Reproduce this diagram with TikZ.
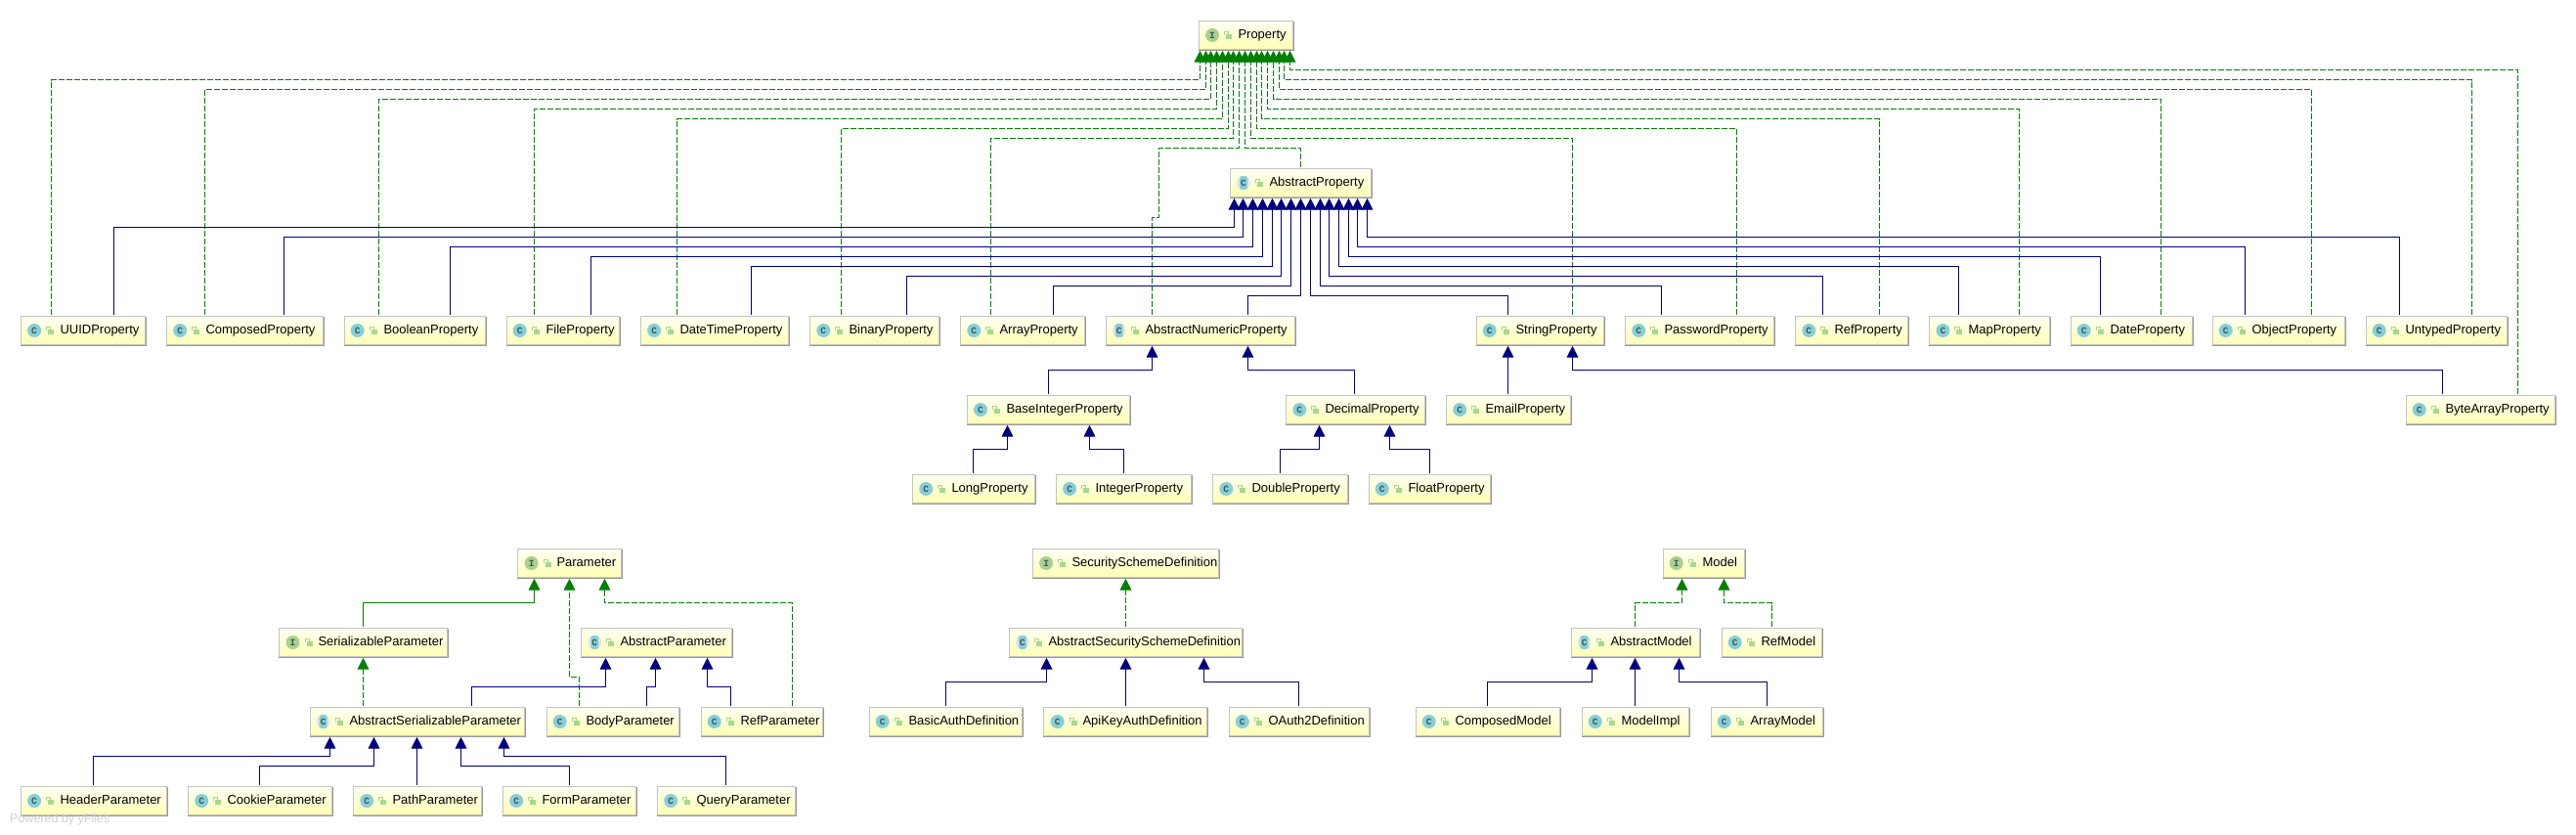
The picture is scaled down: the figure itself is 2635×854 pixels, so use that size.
\documentclass[tikz,border=0pt]{standalone}
\usepackage{fontspec}
\setmainfont{Liberation Sans}
\newfontfamily\iconfont{Liberation Mono}[Scale=1]
\usetikzlibrary{arrows.meta}
\definecolor{navyline}{HTML}{000080}
\definecolor{greenline}{HTML}{008000}
\definecolor{boxtop}{HTML}{FFFFF4}
\definecolor{boxbot}{HTML}{FFFFB4}
\definecolor{boxedge}{HTML}{C4C4C4}
\definecolor{boxshade}{HTML}{989898}
\definecolor{iconI}{HTML}{A9D08E}
\definecolor{iconC}{HTML}{86CFD8}
\definecolor{iconA}{HTML}{E4E8E8}
\definecolor{iconL}{HTML}{A6D98A}
\definecolor{iconT}{HTML}{3D5457}
\tikzset{
  classbox/.style={rectangle,draw=boxedge,line width=1pt,top color=boxtop,bottom color=boxbot,
    inner sep=0pt,outer sep=0pt,outer ysep=1.3pt,text=black,font=\fontsize{13}{15}\selectfont,
    text height=10pt,text depth=3pt},
  shadeline/.style={draw=boxshade,line width=1pt},
  blueline/.style={draw=navyline,line width=1pt,-{Triangle[length=11.7pt,width=11.7pt,fill=navyline]}},
  greenline/.style={draw=greenline,line width=1pt,-{Triangle[length=11.7pt,width=11.7pt,fill=greenline]}},
  greendash/.style={greenline,dash pattern=on 6pt off 2pt},
  icontext/.style={inner sep=0pt,text=iconT,font=\iconfont\bfseries\fontsize{9.5}{10}\selectfont},
}
\newcommand{\snapto}[2]{\pgfmathsetmacro#2{floor(#1)+0.5}}
% name, kind (I,C,A), left, top, right, bottom, text
\newcommand{\cls}[7]{%
  \snapto{#3}{\bl}\snapto{#4}{\bt}\snapto{#5}{\br}\snapto{#6}{\bb}%
  \pgfmathsetmacro\bw{\br-\bl}\pgfmathsetmacro\bh{\bb-\bt}%
  \pgfmathsetmacro\bx{(\bl+\br)/2}\pgfmathsetmacro\by{(\bt+\bb)/2}%
  \pgfmathsetmacro\ix{#3+13.7}\pgfmathsetmacro\lx{#3+29.7}%
  \node[classbox,minimum width=\bw pt,minimum height=\bh pt] (#1) at (\bx,\by)
    {\makebox[\bw pt][l]{\hspace{40pt}#7}};
  \draw[shadeline] (\bl-0.5,\bb+1) -- (\br+1,\bb+1) -- (\br+1,\bt+0.5);
  \begin{scope}[shift={(\ix,\by)}]
    \if#2I\fill[iconI] (0,0) circle[radius=7pt];\fi
    \if#2C\fill[iconC] (0,0) circle[radius=7pt];\fi
    \if#2A\fill[iconA] (0,0) circle[radius=7pt];
      \fill[iconC,rounded corners=2pt] (-4,-6.8) rectangle (4,6.8);\fi
  \end{scope}
  \node[icontext] (#1-icon) at (\ix,\by) {\if#2I I\else C\fi};
  \begin{scope}[shift={(\lx,\by)}]
    \fill[iconL] (-2,-0.7) rectangle (4,4);
    \draw[iconL,line width=1pt] (-3.5,-0.5) -- (-3.5,-3.6) -- (0.6,-3.6) -- (0.6,-0.7);
  \end{scope}
}
% child, x at child, parent, x at parent, bend y, style
\newcommand{\elbow}[6]{%
  \snapto{#2}{\ca}\snapto{#4}{\cb}\snapto{#5}{\cy}%
  \draw[#6] (#1.north -| \ca,0) |- (\cb,\cy) -- (#3.south -| \cb,0);}
\newcommand{\direct}[4]{%
  \snapto{#2}{\ca}%
  \draw[#4] (#1.north -| \ca,0) -- (#3.south -| \ca,0);}
\begin{document}
\begin{tikzpicture}[x=1pt,y=-1pt]
\useasboundingbox (0,0) rectangle (2635,854);
\fill[white] (0,0) rectangle (2635,854);
% top groups
\cls{prop}{I}{1226.3}{21.7}{1322.3}{50}{Property}
\cls{absprop}{A}{1258.3}{172.3}{1402}{201}{AbstractProperty}
% row 1
\cls{uuid}{C}{21.4}{323.3}{148}{352.3}{UUIDProperty}
\cls{composed}{C}{170.5}{323.3}{330}{352.3}{ComposedProperty}
\cls{boolean}{C}{352}{323.3}{496}{352.3}{BooleanProperty}
\cls{file}{C}{518}{323.3}{633}{352.3}{FileProperty}
\cls{datetime}{C}{655.4}{323.3}{806}{352.3}{DateTimeProperty}
\cls{binary}{C}{828.6}{323.3}{960}{352.3}{BinaryProperty}
\cls{array}{C}{982.6}{323.3}{1109}{352.3}{ArrayProperty}
\cls{absnum}{A}{1131}{323.3}{1324}{352.3}{AbstractNumericProperty}
\cls{string}{C}{1510}{323.3}{1640.6}{352.3}{StringProperty}
\cls{password}{C}{1662.5}{323.3}{1814}{352.3}{PasswordProperty}
\cls{ref}{C}{1836.6}{323.3}{1951}{352.3}{RefProperty}
\cls{map}{C}{1973.7}{323.3}{2096}{352.3}{MapProperty}
\cls{date}{C}{2118}{323.3}{2242}{352.3}{DateProperty}
\cls{object}{C}{2263}{323.3}{2398}{352.3}{ObjectProperty}
\cls{untyped}{C}{2420}{323.3}{2564}{352.3}{UntypedProperty}
% row 2
\cls{baseint}{C}{989.3}{404.3}{1155.4}{433.3}{BaseIntegerProperty}
\cls{decimal}{C}{1315.6}{404.3}{1457.6}{433.3}{DecimalProperty}
\cls{email}{C}{1479.5}{404.3}{1606.7}{433.3}{EmailProperty}
\cls{bytearr}{C}{2461}{404.3}{2613.6}{433.3}{ByteArrayProperty}
% row 3
\cls{long}{C}{933.5}{485.7}{1058}{514.3}{LongProperty}
\cls{integer}{C}{1080.4}{485.7}{1218.3}{514.3}{IntegerProperty}
\cls{double}{C}{1240.6}{485.7}{1378}{514.3}{DoubleProperty}
\cls{float}{C}{1400}{485.7}{1524.6}{514.3}{FloatProperty}
% parameter group
\cls{param}{I}{529.9}{561.7}{635.8}{590.3}{Parameter}
\cls{serial}{I}{285.8}{642.7}{457.5}{671.3}{SerializableParameter}
\cls{absparam}{A}{594.6}{642.7}{748.8}{671.3}{AbstractParameter}
\cls{absserial}{A}{317}{723.7}{536.5}{752.3}{AbstractSerializableParameter}
\cls{body}{C}{559}{723.7}{694.5}{752.3}{BodyParameter}
\cls{refparam}{C}{717}{723.7}{841.5}{752.3}{RefParameter}
\cls{header}{C}{21.4}{804.7}{170.6}{833.3}{HeaderParameter}
\cls{cookie}{C}{192.5}{804.7}{339.5}{833.3}{CookieParameter}
\cls{path}{C}{361.5}{804.7}{492.6}{833.3}{PathParameter}
\cls{form}{C}{514.5}{804.7}{650.6}{833.3}{FormParameter}
\cls{query}{C}{672.5}{804.7}{813.5}{833.3}{QueryParameter}
% security group
\cls{secdef}{I}{1056.4}{561.7}{1246.7}{590.3}{SecuritySchemeDefinition}
\cls{abssec}{A}{1032.2}{642.7}{1270.3}{671.3}{AbstractSecuritySchemeDefinition}
\cls{basic}{C}{889}{723.7}{1045.4}{752.3}{BasicAuthDefinition}
\cls{apikey}{C}{1067.9}{723.7}{1234.7}{752.3}{ApiKeyAuthDefinition}
\cls{oauth}{C}{1257.1}{723.7}{1400.3}{752.3}{OAuth2Definition}
% model group
\cls{model}{I}{1701}{561.7}{1784}{590.3}{Model}
\cls{absmodel}{A}{1607}{642.7}{1738.3}{671.3}{AbstractModel}
\cls{refmodel}{C}{1761}{642.7}{1863.3}{671.3}{RefModel}
\cls{compmodel}{C}{1448}{723.7}{1595.6}{752.3}{ComposedModel}
\cls{modelimpl}{C}{1618}{723.7}{1727.3}{752.3}{ModelImpl}
\cls{arrmodel}{C}{1750}{723.7}{1864.3}{752.3}{ArrayModel}
% Property realisations
\elbow{uuid}{52.2}{prop}{1227.3}{81.3}{greendash}
\elbow{composed}{209.4}{prop}{1233.3}{91.3}{greendash}
\elbow{boolean}{387.5}{prop}{1238.3}{101.3}{greendash}
\elbow{file}{546.4}{prop}{1244.3}{111.3}{greendash}
\elbow{datetime}{692.4}{prop}{1250.3}{121.3}{greendash}
\elbow{binary}{860.3}{prop}{1256.3}{131.3}{greendash}
\elbow{array}{1013.4}{prop}{1261.7}{141.3}{greendash}
\draw[greendash] (absnum.north -| 1178.5,0) -- (1178.5,222.5) -- (1185.5,222.5) -- (1185.5,151.5) -- (1267.5,151.5) -- (prop.south -| 1267.5,0);
\elbow{absprop}{1330.3}{prop}{1273.3}{151.3}{greendash}
\elbow{string}{1608.5}{prop}{1279.3}{141.3}{greendash}
\elbow{password}{1776}{prop}{1285.3}{131.3}{greendash}
\elbow{ref}{1922}{prop}{1290.7}{121.3}{greendash}
\elbow{map}{2065.6}{prop}{1296.7}{111.3}{greendash}
\elbow{date}{2210.6}{prop}{1302.3}{101.3}{greendash}
\elbow{object}{2364.5}{prop}{1308.3}{91.3}{greendash}
\elbow{untyped}{2528.6}{prop}{1313.3}{81.3}{greendash}
\elbow{bytearr}{2575.5}{prop}{1319.3}{71.3}{greendash}
% AbstractProperty subclasses
\elbow{uuid}{116.5}{absprop}{1262.3}{232.3}{blueline}
\elbow{composed}{290.6}{absprop}{1271.3}{242.3}{blueline}
\elbow{boolean}{460.3}{absprop}{1281.3}{252.3}{blueline}
\elbow{file}{604.5}{absprop}{1291.3}{262.3}{blueline}
\elbow{datetime}{768.3}{absprop}{1301.3}{272.3}{blueline}
\elbow{binary}{927.2}{absprop}{1310.3}{282.3}{blueline}
\elbow{array}{1077.2}{absprop}{1320.3}{292.3}{blueline}
\elbow{absnum}{1276.3}{absprop}{1330.3}{302.3}{blueline}
\elbow{string}{1542.4}{absprop}{1340.3}{302.3}{blueline}
\elbow{password}{1699.6}{absprop}{1350.3}{292.3}{blueline}
\elbow{ref}{1864.3}{absprop}{1359.7}{282.3}{blueline}
\elbow{map}{2003.6}{absprop}{1369.7}{272.3}{blueline}
\elbow{date}{2148.2}{absprop}{1379.3}{262.3}{blueline}
\elbow{object}{2296.5}{absprop}{1388.3}{252.3}{blueline}
\elbow{untyped}{2454.4}{absprop}{1398.3}{242.3}{blueline}
% lower property tree
\elbow{baseint}{1072.3}{absnum}{1178.6}{378.3}{blueline}
\elbow{decimal}{1385.3}{absnum}{1276.3}{378.3}{blueline}
\direct{email}{1542.4}{string}{blueline}
\elbow{bytearr}{2498.6}{string}{1608.5}{378.3}{blueline}
\elbow{long}{995.5}{baseint}{1030.4}{459.3}{blueline}
\elbow{integer}{1149.6}{baseint}{1114.3}{459.3}{blueline}
\elbow{double}{1309.4}{decimal}{1349.6}{459.3}{blueline}
\elbow{float}{1462.5}{decimal}{1421.4}{459.3}{blueline}
% parameter connectors
\elbow{serial}{371.4}{param}{546.3}{616.3}{greenline}
\draw[greendash] (body.north -| 592.5,0) -- (592.5,692.5) -- (582.5,692.5) -- (param.south -| 582.5,0);
\elbow{refparam}{810.7}{param}{618.8}{616.3}{greendash}
\direct{absserial}{371.4}{serial}{greendash}
\elbow{absserial}{482.7}{absparam}{619.3}{702.3}{blueline}
\elbow{body}{661.5}{absparam}{670.9}{702.3}{blueline}
\elbow{refparam}{747.7}{absparam}{723}{702.3}{blueline}
\elbow{header}{95.4}{absserial}{337.9}{773.3}{blueline}
\elbow{cookie}{265.5}{absserial}{382.3}{783.3}{blueline}
\direct{path}{426.8}{absserial}{blueline}
\elbow{form}{582.5}{absserial}{471.2}{783.3}{blueline}
\elbow{query}{742.7}{absserial}{515.6}{773.3}{blueline}
% security connectors
\direct{abssec}{1151.3}{secdef}{greendash}
\elbow{basic}{967.5}{abssec}{1070.6}{697.3}{blueline}
\direct{apikey}{1151.3}{abssec}{blueline}
\elbow{oauth}{1328.5}{abssec}{1231.4}{697.3}{blueline}
% model connectors
\elbow{absmodel}{1672.4}{model}{1720.7}{616.3}{greendash}
\elbow{refmodel}{1812.7}{model}{1763.7}{616.3}{greendash}
\elbow{compmodel}{1521.5}{absmodel}{1628}{697.3}{blueline}
\direct{modelimpl}{1672.4}{absmodel}{blueline}
\elbow{arrmodel}{1807.7}{absmodel}{1717.3}{697.3}{blueline}
% watermark
\node[anchor=west,inner sep=0pt,text=black!18,font=\fontsize{12.5}{14}\selectfont] (powered) at (10,838) {Powered by yFiles};
\end{tikzpicture}
\end{document}
